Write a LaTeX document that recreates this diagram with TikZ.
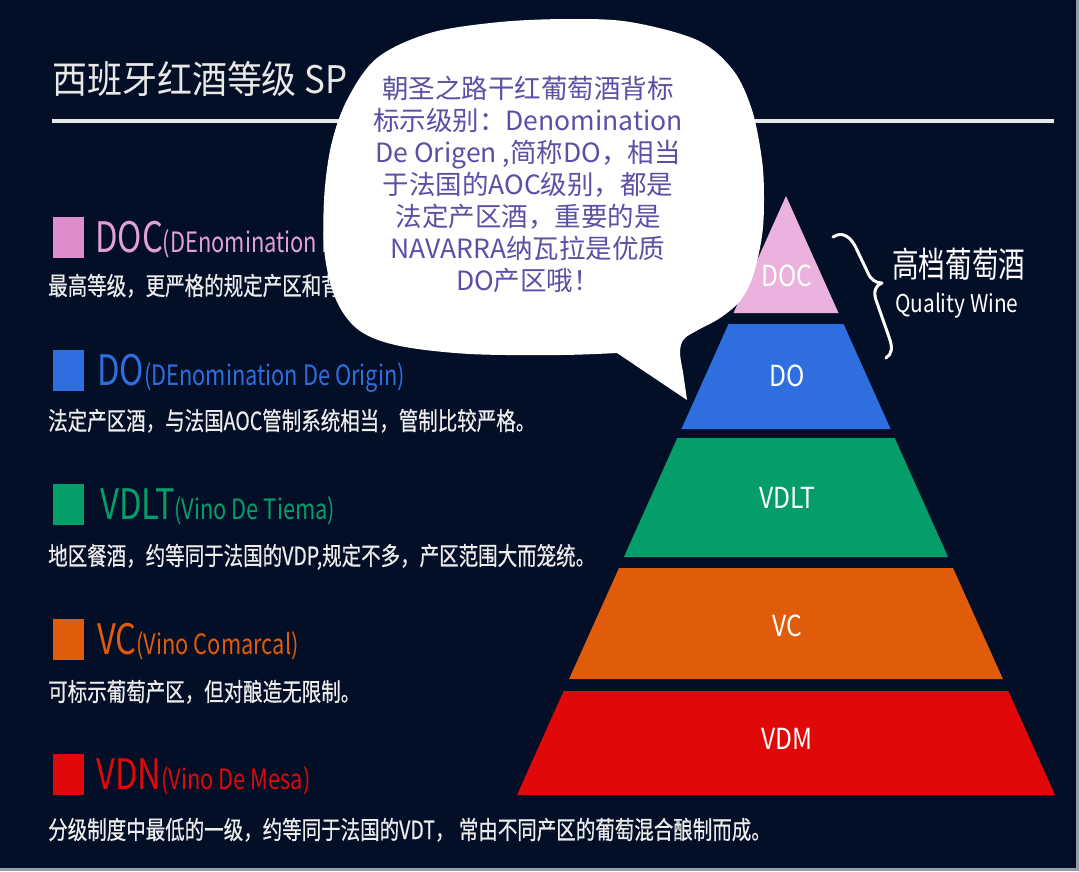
\documentclass[tikz,border=0pt]{standalone}
\usepackage{fontspec}
\setmainfont{Noto Sans CJK SC}
\newfontfamily\bubfont{Noto Sans CJK SC}
\newfontfamily\condA[FakeStretch=0.78]{Noto Sans CJK SC}
\newfontfamily\condD[FakeStretch=0.78,FakeBold=0.6]{Noto Sans CJK SC}
\newfontfamily\condB[FakeStretch=0.85]{Noto Sans CJK SC}
\newfontfamily\condT[FakeStretch=0.92]{Noto Sans CJK SC}
\newfontfamily\condQ[FakeStretch=0.76]{Noto Sans CJK SC}
\definecolor{bg}{RGB}{3,15,39}
\definecolor{edge}{RGB}{150,156,168}
\definecolor{titlec}{RGB}{232,232,232}
\definecolor{descc}{RGB}{236,236,236}
\definecolor{docsq}{RGB}{222,140,204}
\definecolor{doctx}{RGB}{226,160,215}
\definecolor{docpy}{RGB}{235,178,222}
\definecolor{dob}{RGB}{46,110,222}
\definecolor{vdltg}{RGB}{5,158,106}
\definecolor{vco}{RGB}{224,92,10}
\definecolor{vdnr}{RGB}{224,8,8}
\definecolor{bubtx}{RGB}{90,80,165}
\tikzset{
  sq/.style={inner sep=0pt, minimum width=31pt, minimum height=41pt, anchor=north west},
  lbl/.style={anchor=base west, inner sep=0pt, font=\condA},
  desc/.style={anchor=base west, inner sep=0pt, text=descc, font=\condD\fontsize{25}{25}\selectfont},
  plabel/.style={inner sep=0pt, text=white, font=\condB\fontsize{29}{29}\selectfont},
  bub/.style={anchor=base, inner sep=0pt, text=bubtx, font=\bubfont\fontsize{26.5}{26.5}\selectfont},
}
\newcommand{\BigT}{\fontsize{42}{42}\selectfont}
\newcommand{\SmallT}{\fontsize{28}{28}\selectfont}
\begin{document}
\begin{tikzpicture}[x=1pt,y=-1pt]
\useasboundingbox (0,0) rectangle (1079,871);
% background with thin border
\fill[edge] (0,0) rectangle (1079,871);
\fill[bg] (0,0) rectangle (1076,868);

% title
\node[anchor=base west, inner sep=0pt, text=titlec, font=\condT\fontsize{38}{38}\selectfont] (title) at (52,93) {西班牙红酒等级 SP};
\draw[titlec, line width=4pt] (52,121) -- (1054,121);

% left legend
\node[sq, fill=docsq] (sqdoc) at (53,217) {};
\node[lbl, text=doctx] (ldoc) at (95,252) {\BigT DOC\SmallT(DEnomination D};
\node[desc] (ddoc) at (48,295) {最高等级，更严格的规定产区和背};

\node[sq, fill=dob] (sqdo) at (53,350) {};
\node[lbl, text=dob] (ldo) at (97,385) {\BigT DO\SmallT(DEnomination De Origin)};
\node[desc] (ddo) at (48,430) {法定产区酒，与法国AOC管制系统相当，管制比较严格。};

\node[sq, fill=vdltg] (sqvdlt) at (53,484) {};
\node[lbl, text=vdltg] (lvdlt) at (100,519) {\BigT VDLT\SmallT(Vino De Tiema)};
\node[desc] (dvdlt) at (48,565) {地区餐酒，约等同于法国的VDP,规定不多，产区范围大而笼统。};

\node[sq, fill=vco] (sqvc) at (53,619) {};
\node[lbl, text=vco] (lvc) at (97,654) {\BigT VC\SmallT(Vino Comarcal)};
\node[desc] (dvc) at (48,701) {可标示葡萄产区，但对酿造无限制。};

\node[sq, fill=vdnr] (sqvdn) at (53,754) {};
\node[lbl, text=vdnr] (lvdn) at (96,789) {\BigT VDN\SmallT(Vino De Mesa)};
\node[desc] (dvdn) at (48,839) {分级制度中最低的一级，约等同于法国的VDT， 常由不同产区的葡萄混合酿制而成。};

% pyramid
\fill[docpy] (786,196) -- (838.5,313) -- (733.5,313) -- cycle;
\fill[dob] (728.5,324) -- (843.5,324) -- (890.6,429) -- (681.4,429) -- cycle;
\fill[vdltg] (677.3,438) -- (894.7,438) -- (948.1,557) -- (623.9,557) -- cycle;
\fill[vco] (619,568) -- (953,568) -- (1002.9,679) -- (569.1,679) -- cycle;
\fill[vdnr] (563.7,691) -- (1008.3,691) -- (1055,795) -- (517,795) -- cycle;
\node[plabel] (pdoc) at (787,276) {DOC};
\node[plabel] (pdo) at (787,376) {DO};
\node[plabel] (pvdlt) at (787,498) {VDLT};
\node[plabel] (pvc) at (787,626) {VC};
\node[plabel] (pvdm) at (787,739) {VDM};

% brace
\draw[white, line width=3pt, line cap=round, line join=round]
  (833,237) .. controls (842,231) and (851,236) .. (857,250)
  -- (868,273) .. controls (871,280) and (876,283) .. (882,283)
  .. controls (876,285) and (873,291) .. (876,300)
  -- (889,337) .. controls (893,348) and (892,354) .. (886,358);
\node[anchor=west, inner sep=0pt, text=white, font=\condQ\fontsize{35}{35}\selectfont] (hq) at (892,264) {高档葡萄酒};
\node[anchor=base west, inner sep=0pt, text=white, font=\condB\fontsize{24.5}{24.5}\selectfont] (qw) at (895,312) {Quality Wine};

% speech bubble
\fill[white] (687,400) -- plot[smooth, tension=0.55] coordinates {
  (617,353) (560,355) (470,354) (400,346) (360,331) (337,302) (325,257) (324,200)
  (331,146) (347,100) (377,58) (430,33) (500,22) (570,19) (630,22) (697,40)
  (733,70) (752,110) (762,160) (764,200) (762,236) (753,276) (740,301)
  (720,318) (698,330) (684,339) (680,352) (683,372)} -- cycle;
\node[bub] (b1) at (528,98) {朝圣之路干红葡萄酒背标};
\node[bub] (b2) at (528,130) {标示级别：Denomination};
\node[bub] (b3) at (528,162) {De Origen ,简称DO，相当};
\node[bub] (b4) at (528,194) {于法国的AOC级别，都是};
\node[bub] (b5) at (528,226) {法定产区酒，重要的是};
\node[bub] (b6) at (528,258) {NAVARRA纳瓦拉是优质};
\node[bub] (b7) at (528,290) {DO产区哦！};
\end{tikzpicture}
\end{document}
